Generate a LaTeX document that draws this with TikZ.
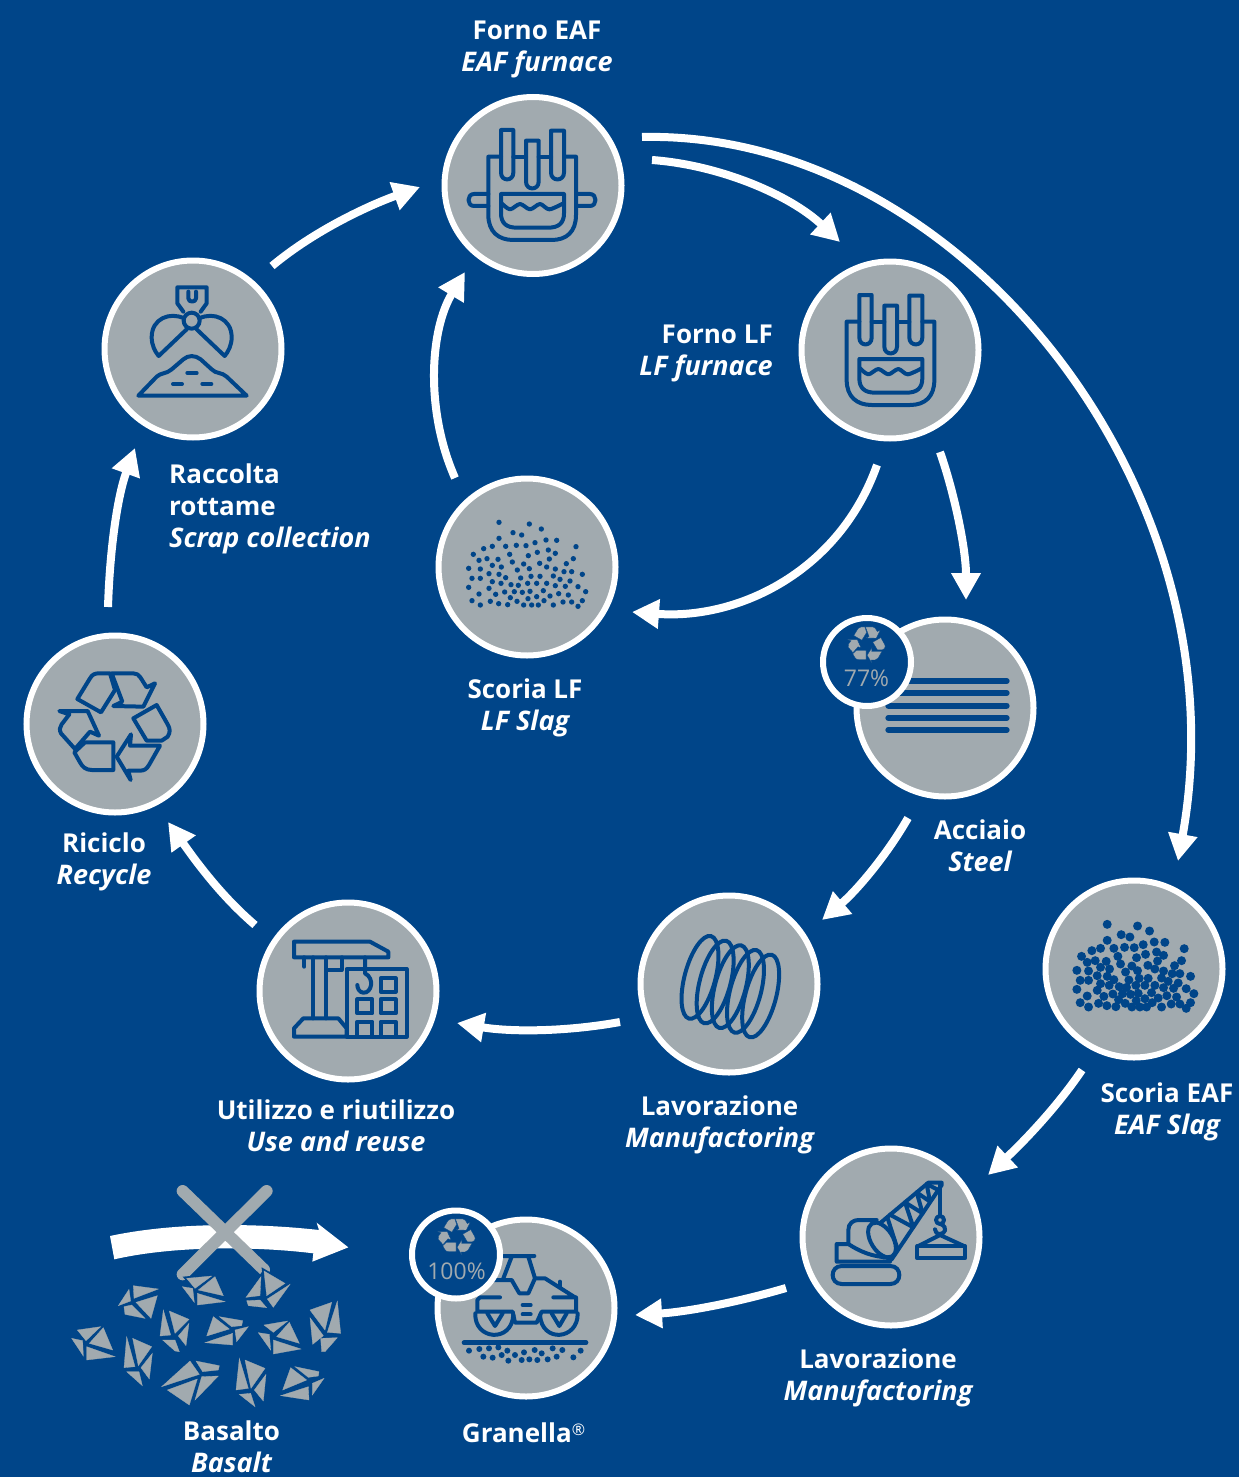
\documentclass[tikz,border=0pt]{standalone}
\usepackage{fontspec}
\setmainfont{Open Sans}
\usetikzlibrary{arrows.meta}
\definecolor{navy}{HTML}{004589}
\definecolor{stone}{HTML}{A1AAAF}
\newcommand\lnrule{\rule[-9.6pt]{0pt}{32pt}}
\newcommand\itl[1]{{\fontsize{27}{32}\selectfont\itshape #1}}
\newcommand\furnacebody{%
 \draw[icon] (213,120)--(250,120)--(250,248) .. controls (250,275) and (213,275) .. (213,248) -- cycle;
 \draw[icon] (288,152)--(326,152)--(326,275) .. controls (326,302) and (288,302) .. (288,275) -- cycle;
 \draw[icon] (363,122)--(402,122)--(402,248) .. controls (402,275) and (363,275) .. (363,248) -- cycle;
 \draw[icon] (213,200)--(175,200)--(175,375) .. controls (175,425) and (205,450) .. (250,450) -- (365,450) .. controls (410,450) and (438,425) .. (438,375) -- (438,200) -- (402,200);
 \draw[icon] (250,200)--(288,200) (326,200)--(363,200);
 \draw[icon] (213,312)--(402,312)--(402,370) .. controls (402,400) and (385,413) .. (355,413) -- (260,413) .. controls (230,413) and (213,400) .. (213,370) -- cycle;
 \draw[icon] plot[smooth] coordinates {(215,340) (240,358) (270,342) (300,358) (330,342) (358,358) (400,340)};
}
\newcommand\recycleshapes[1]{%
 \path[#1] (187,222) -- (225,160) .. controls (232,148) and (240,145) .. (252,145) -- (285,145) -- (300,195) -- (258,262) -- cycle;
 \path[#1] (290,145) -- (355,145) .. controls (365,145) and (372,150) .. (376,157) -- (395,187) -- (420,175) -- (385,245) -- (295,243) -- (322,230) -- cycle;
 \path[#1] (355,280) -- (425,240) -- (458,298) .. controls (466,312) and (466,322) .. (458,335) -- (440,347) -- (395,347) -- cycle;
 \path[#1] (435,362) -- (402,420) .. controls (395,432) and (388,437) .. (375,437) -- (340,437) -- (347,465) -- (305,395) -- (348,328) -- (345,362) -- cycle;
 \path[#1] (133,258) -- (218,258) -- (252,332) -- (225,320) -- (180,372) -- (138,325) .. controls (132,315) and (135,305) .. (140,298) -- (163,268) -- cycle;
 \path[#1] (210,352) -- (295,352) -- (295,435) -- (230,435) .. controls (212,435) and (202,425) .. (195,412) -- (178,382) -- cycle;
}
\newcommand\slagdots[1]{%
 \foreach \px/\py in {207/142,298/147,334/162,249/173,275/180,207/190,348/195,380/196,315/203,259/211,288/212,227/214,187/214,161/221,438/215,355/225,322/232,130/238,239/238,376/235,295/242,171/251,204/253,147/256,358/252,430/251,247/261,329/265,409/266,281/267,187/271,214/276,350/276,116/280,151/282,298/281,376/282,262/285,425/290,402/290,177/296,207/298,457/298,303/304,330/304,370/303,126/310,151/310,227/308,272/309,390/313,420/318,187/320,293/325,320/325,213/325,350/325,243/329,265/331,376/332,444/335,406/334,116/337,177/340,340/347,253/350,224/351,277/352,300/349,467/350,147/357,197/358,386/356,415/360,360/363,320/365,241/368,294/371,126/377,181/379,261/379,342/377,457/377,425/381,399/381,206/386,233/389,151/390,281/390,305/390,325/390,370/390,444/394}
 {\fill[navy] (\px,\py) circle (#1);}
}
\newcommand\rk[1]{\path[rockpart] #1 -- cycle;}
\tikzset{
 icon/.style={draw=navy,line width=4pt,line join=round,line cap=round},
 zoomat/.style 2 args={shift={(#1,#2)},x=0.33333pt,y=-0.33333pt},
 disc/.style={circle,draw=white,fill=stone,line width=6pt,minimum size=177pt,inner sep=0pt,outer sep=0pt},
 badge/.style={circle,draw=white,fill=navy,line width=6pt,minimum size=88pt,inner sep=0pt,outer sep=0pt},
 flow/.style={draw=white,line width=8pt,-{Triangle[width=28pt,length=27pt]}},
 lbl/.style={text=white,font=\fontsize{26}{32}\selectfont\bfseries,align=center,inner sep=0pt},
 lblr/.style={lbl,align=right,anchor=east},
 lbll/.style={lbl,align=left,anchor=west},
 pct/.style={text=stone,font=\fontsize{23}{28}\selectfont,inner sep=0pt},
 rockpart/.style={fill=stone,draw=stone,line width=0.3pt,line join=miter},
 rockgap/.style={draw=navy,line width=4pt},
}
\begin{document}
\begin{tikzpicture}[x=1pt,y=-1pt]
\useasboundingbox (0,0) rectangle (1239,1477);
\fill[navy] (0,0) rectangle (1239,1477);

% discs
\node[disc] (eaf) at (533,185.5) {};
\node[disc] (lf) at (890,350) {};
\node[disc] (scrap) at (193,349) {};
\node[disc] (lfslag) at (527,567) {};
\node[disc] (recycle) at (115,724) {};
\node[disc] (steel) at (945,708) {};
\node[disc] (use) at (348,991) {};
\node[disc] (lavone) at (729,984) {};
\node[disc] (eafslag) at (1134,969) {};
\node[disc] (lavtwo) at (891,1237) {};
\node[disc] (gran) at (526,1308) {};

% connectors
\draw[flow] ([shift={(109,-48.5)}]eaf.center) .. controls (960,130) and (1245,490) .. ([shift={(44,-108)}]eafslag.center);
\draw[flow] ([shift={(119,-25.5)}]eaf.center) .. controls (720,165) and (790,195) .. ([shift={(-50,-108)}]lf.center);
\draw[flow] ([shift={(-13,115)}]lf.center) .. controls (840,570) and (740,620) .. ([shift={(105,45)}]lfslag.center);
\draw[flow] ([shift={(50,102)}]lf.center) .. controls (955,495) and (966,550) .. ([shift={(21,-108)}]steel.center);
\draw[flow] ([shift={(-72,-89)}]lfslag.center) .. controls (425,410) and (430,330) .. ([shift={(-68,86.5)}]eaf.center);
\draw[flow] ([shift={(79,-83)}]scrap.center) .. controls (315,230) and (370,205) .. ([shift={(-113,1.5)}]eaf.center);
\draw[flow] ([shift={(-7,-117)}]recycle.center) .. controls (110,545) and (118,495) .. ([shift={(-58,99)}]scrap.center);
\draw[flow] ([shift={(-93,-66)}]use.center) .. controls (220,895) and (195,860) .. ([shift={(53,98)}]recycle.center);
\draw[flow] ([shift={(-109,38)}]lavone.center) .. controls (565,1032) and (510,1032) .. ([shift={(109,32)}]use.center);
\draw[flow] ([shift={(-37,110)}]steel.center) .. controls (885,858) and (855,892) .. ([shift={(93,-64)}]lavone.center);
\draw[flow] ([shift={(-52,101)}]eafslag.center) .. controls (1055,1110) and (1020,1145) .. ([shift={(97,-62)}]lavtwo.center);
\draw[flow] ([shift={(-105,51)}]lavtwo.center) .. controls (735,1303) and (685,1312) .. ([shift={(109,7)}]gran.center);

% furnace EAF
\begin{scope}[zoomat={430}{90}]
 \furnacebody
 \draw[icon] (175,312)--(132,312) .. controls (110,312) and (110,348) .. (132,348)--(175,348);
 \draw[icon] (438,312)--(480,312) .. controls (502,312) and (502,348) .. (480,348)--(438,348);
\end{scope}
% furnace LF
\begin{scope}[zoomat={788.33}{255}]
 \furnacebody
\end{scope}
% scrap grab
\begin{scope}[zoomat={90}{250}]
 \draw[icon] (280,185)--(262,160)--(262,112)--(350,112)--(350,160)--(332,185);
 \draw[icon] (295,125)--(295,145) .. controls (295,158) and (318,158) .. (318,145) -- (318,125);
 \draw[icon] (305,212) circle (24);
 \draw[icon] (282,205) .. controls (240,185) and (185,205) .. (185,262) .. controls (185,285) and (195,305) .. (206,318) -- (290,238);
 \draw[icon] (328,205) .. controls (370,185) and (425,205) .. (425,262) .. controls (425,285) and (415,305) .. (404,318) -- (320,238);
 \draw[icon] (145,437) -- (200,380) .. controls (212,368) and (230,372) .. (245,358) -- (280,328) .. controls (295,315) and (315,315) .. (332,328) -- (365,358) .. controls (378,372) and (395,366) .. (410,380) -- (470,437) -- cycle;
 \draw[navy,line width=4pt,line cap=round] (292,369)--(320,369) (249,402)--(276,402) (337,402)--(364,402);
\end{scope}
% recycle
\begin{scope}[zoomat={15}{625}]
 \recycleshapes{draw=navy,line width=4pt,line join=round}
\end{scope}
% use and reuse
\begin{scope}[zoomat={250}{895}]
 \draw[icon] (132,140)--(360,140)--(415,170)--(415,187)--(132,187)--cycle;
 \draw[icon] (190,187)--(190,370) (228,187)--(228,370) (163,187)--(163,215) (228,225)--(275,225)--(275,187);
 \draw[icon] (345,222)--(290,222)--(290,425)--(470,425)--(470,222)--(345,222);
 \draw[icon] (345,187)--(345,235) .. controls (375,250) and (365,295) .. (340,293) .. controls (328,292) and (322,280) .. (322,270);
 \draw[icon] (392,250) rectangle (437,290);
 \draw[icon] (322,313) rectangle (367,355);
 \draw[icon] (392,313) rectangle (437,355);
 \draw[icon] (322,425)--(322,380)--(367,380)--(367,425) (392,425)--(392,380)--(437,380)--(437,425);
 \draw[icon] (160,370)--(265,370)--(290,400)--(290,425)--(132,425)--(132,400)--cycle;
\end{scope}
% spring
\begin{scope}[zoomat={630}{890}]
 \foreach \k in {0,...,4}
  \draw[navy,line width=4pt,shift={(210+45.5*\k,262+14*\k)},rotate=-15] (0,0) ellipse (46 and 128);
\end{scope}
% steel lines
\begin{scope}[zoomat={810}{610}]
 \foreach \ly in {213,249,287,324,360}
  \draw[navy,line width=6pt,line cap=round] (235,\ly)--(590,\ly);
\end{scope}
% slag
\begin{scope}[zoomat={430}{475}]
 \slagdots{8}
\end{scope}
\begin{scope}[zoomat={1038.2}{877}]
 \slagdots{13.5}
\end{scope}
% crane
\begin{scope}[zoomat={790}{1140}]
 \draw[icon] (155,378) -- (301,378) .. controls (337,378) and (337,432) .. (301,432) -- (155,432) .. controls (119,432) and (119,378) .. (155,378) -- cycle;
 \draw[icon] (300,365)--(140,365)--(140,312)--(175,312) .. controls (210,335) and (250,352) .. (300,352);
 \draw[icon] (175,312)--(175,270) .. controls (175,250) and (190,240) .. (205,240) -- (260,240);
 \draw[icon,shift={(276,300)},rotate=-58] (0,0) ellipse (58 and 33);
 \draw[icon] (272,248)--(415,128)--(455,128)--(455,135)--(305,358);
 \draw[icon] (292,232)--(322,325) (300,224)--(370,262)--(345,187)--(398,220)--(380,157)--(420,185)--(410,132)--(445,150);
 \draw[icon] (450,135)--(450,228);
 \draw[icon] (450,240) circle (12);
 \draw[icon] (452,252) .. controls (475,262) and (465,282) .. (450,282) .. controls (440,282) and (435,275) .. (435,268);
 \draw[icon] (385,318)--(450,285)--(522,318);
 \draw[icon] (382,318) rectangle (525,355);
\end{scope}
% roller
\begin{scope}[zoomat={400}{1200}]
 \draw[navy,line width=4.7pt,line cap=round] (192,428)--(558,428);
 \foreach \px/\py in {207/452,238/447,250/470,267/445,278/473,295/442,305/465,322/452,325/482,345/465,372/457,365/480,388/478,404/450,412/480,425/460,443/478,458/445,470/470,487/450,520/472,542/452}
  \fill[navy] (\px,\py) circle (9);
 \draw[icon] (310,168)--(403,168) (335,170)--(310,235) (385,170)--(405,235);
 \draw[icon] (275,240)--(335,240)--(358,280)--(385,280)--(405,235)--(435,235)--(525,292)--(460,292);
 \draw[icon] (480,245)--(480,262);
 \draw[icon] (300,292)--(240,292)--(232,300)--(232,335)--(338,335)--(345,368)--(410,368)--(425,335)--(528,335)--(528,292);
 \draw[icon] (226,340) .. controls (222,420) and (335,430) .. (340,345);
 \draw[icon] (420,345) .. controls (425,430) and (535,420) .. (533,340);
 \draw[icon] (262,340)--(285,378)--(308,340);
 \draw[icon] (455,340)--(478,378)--(500,340);
 \draw[icon] (368,315)--(392,315) (368,343)--(392,343);
\end{scope}
% basalt
\begin{scope}[zoomat={60}{1175}]
 \fill[white] (163,253) -- (150,183) .. controls (350,140) and (600,145) .. (777,165) -- (770,143) -- (865,217) -- (757,260) -- (760,235) .. controls (600,215) and (350,210) .. (163,253) -- cycle;
 \draw[stone,line width=12pt,line cap=round] (368,48)--(612,284) (620,48)--(368,298);
 \path[rockgap] (380,310)--(455,303)--(405,340)--cycle;
 \path[rockgap] (612,288)--(675,325)--(620,362)--cycle;
 \path[rockgap] (603,305)--(600,362)--(558,367)--cycle;
 \rk{(380,310)--(455,303)--(405,340)}
 \rk{(465,305)--(490,362)--(415,345)}
 \rk{(412,355)--(495,380)--(412,390)}
 \rk{(367,335)--(398,340)--(403,382)}
 \rk{(612,288)--(675,325)--(620,362)}
 \rk{(603,305)--(600,362)--(558,367)}
 \rk{(690,328)--(640,397)--(622,372)}
 \rk{(560,377)--(600,375)--(620,398)--(565,392)}
 \rk{(220,332)--(295,342)--(222,370)}
 \rk{(292,362)--(273,430)--(228,382)}
 \rk{(207,343)--(212,378)--(175,392)}
 \rk{(192,395)--(215,390)--(255,430)--(195,418)}
 \rk{(310,405)--(332,480)--(300,483)}
 \rk{(328,408)--(387,433)--(345,475)}
 \rk{(387,445)--(378,512)--(355,483)}
 \rk{(308,495)--(345,495)--(358,530)--(345,528)}
 \rk{(460,425)--(508,462)--(440,483)}
 \rk{(478,425)--(548,437)--(545,452)--(515,455)}
 \rk{(565,455)--(530,500)--(525,465)}
 \rk{(435,503)--(518,475)--(518,510)}
 \rk{(612,450)--(683,438)--(640,472)}
 \rk{(688,442)--(718,505)--(650,485)}
 \rk{(640,495)--(723,522)--(640,537)}
 \rk{(595,473)--(628,478)--(632,525)}
 \rk{(750,405)--(815,382)--(795,465)}
 \rk{(832,378)--(842,475)--(802,472)}
 \rk{(750,428)--(790,482)--(758,508)}
 \rk{(785,530)--(782,490)--(832,488)--(795,530)}
 \rk{(52,465)--(122,455)--(78,497)}
 \rk{(130,458)--(158,525)--(88,505)}
 \rk{(80,515)--(165,545)--(80,555)}
 \rk{(35,490)--(68,497)--(70,543)}
 \rk{(200,485)--(225,575)--(192,578)}
 \rk{(218,490)--(275,515)--(235,572)}
 \rk{(277,535)--(268,612)--(243,578)}
 \rk{(200,590)--(237,590)--(247,632)}
 \rk{(390,558)--(418,598)--(305,635)}
 \rk{(408,558)--(478,572)--(475,585)--(428,590)}
 \rk{(475,603)--(405,675)--(425,605)}
 \rk{(322,645)--(412,612)--(388,690)}
 \rk{(538,550)--(565,640)--(528,645)}
 \rk{(555,555)--(615,580)--(573,640)}
 \rk{(618,598)--(610,678)--(583,645)}
 \rk{(538,658)--(572,655)--(585,695)}
 \rk{(692,578)--(740,615)--(668,645)}
 \rk{(705,575)--(777,590)--(775,603)--(745,607)}
 \rk{(792,610)--(757,660)--(757,625)}
 \rk{(662,662)--(745,635)--(747,675)}
\end{scope}

% badges
\node[badge] (bsteel) at (867,662) {};
\node[badge] (bgran) at (456,1254.5) {};
\begin{scope}[shift={(866,645)},scale=0.34,zoomat={-98.3}{-101.7}]
 \recycleshapes{fill=stone,draw=navy,line width=0.3pt}
\end{scope}
\begin{scope}[shift={(456,1237)},scale=0.34,zoomat={-98.3}{-101.7}]
 \recycleshapes{fill=stone,draw=navy,line width=0.3pt}
\end{scope}
\node[pct] (psteel) at (866.5,678) {77\%};
\node[pct] (pgran) at (456.5,1271) {100\%};

% labels
\node[lbl] (t1) at (537,49) {\lnrule Forno EAF\\\lnrule\itl{EAF furnace}};
\node[lblr] (t2) at (773,353) {\lnrule Forno LF\\\lnrule\itl{LF furnace}};
\node[lbll] (t3) at (169,509) {\lnrule Raccolta\\\lnrule rottame\\\lnrule\itl{Scrap collection}};
\node[lbl] (t4) at (525,708) {\lnrule Scoria LF\\\lnrule\itl{LF Slag}};
\node[lbl] (t5) at (980,849.5) {\lnrule Acciaio\\\lnrule\itl{Steel}};
\node[lbl] (t6) at (104,862) {\lnrule Riciclo\\\lnrule\itl{Recycle}};
\node[lbl] (t7) at (1167,1112) {\lnrule Scoria EAF\\\lnrule\itl{EAF Slag}};
\node[lbl] (t8) at (719.5,1125) {\lnrule Lavorazione\\\lnrule\itl{Manufactoring}};
\node[lbl] (t9) at (336,1129) {\lnrule Utilizzo e riutilizzo\\\lnrule\itl{Use and reuse}};
\node[lbl] (t10) at (878,1378) {\lnrule Lavorazione\\\lnrule\itl{Manufactoring}};
\node[lbl,anchor=north] (t11) at (231.5,1417.5) {\lnrule Basalto\\\rule{0pt}{22.4pt}\itl{Basalt}};
\node[lbl] (t12) at (523.5,1436) {\lnrule Granella\raisebox{7pt}{\fontsize{16}{16}\selectfont\mdseries ®}};
\end{tikzpicture}
\end{document}
